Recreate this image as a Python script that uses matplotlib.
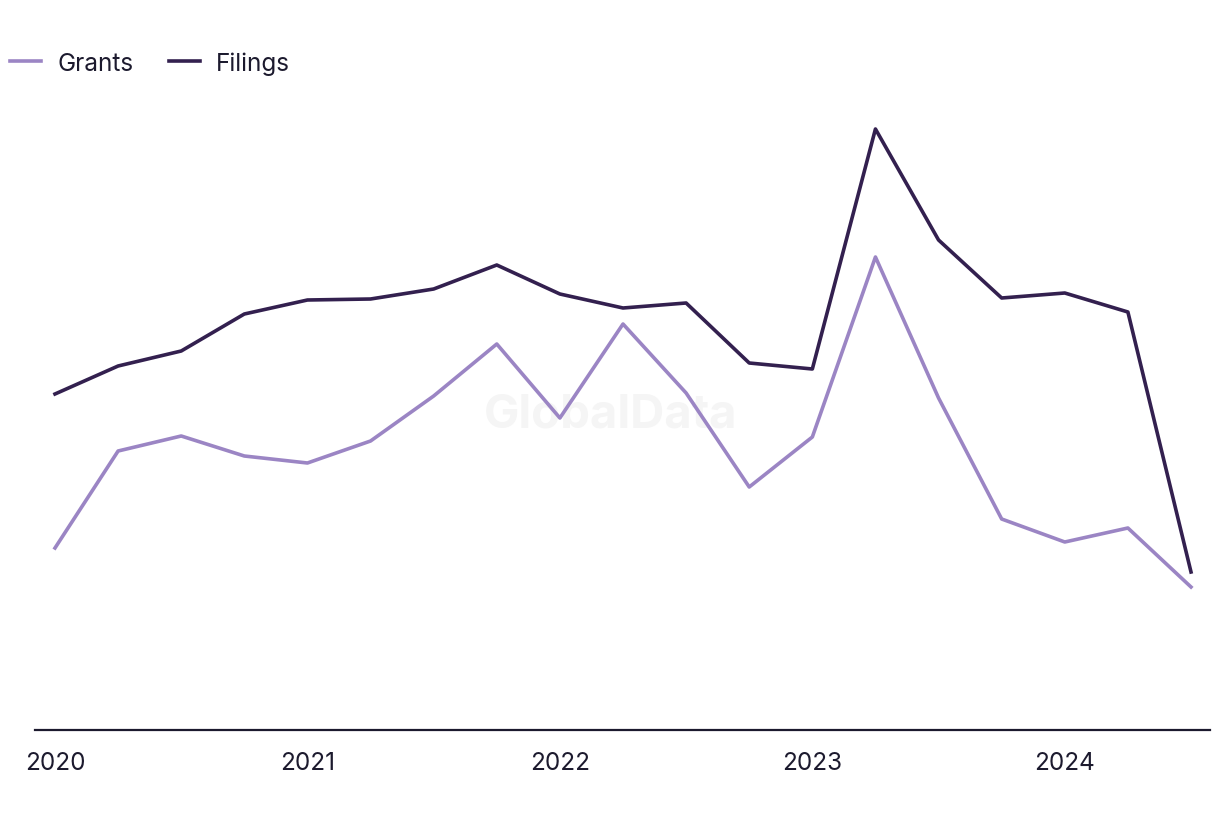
import matplotlib.pyplot as plt
import numpy as np

plt.rcParams['font.family'] = ['Inter', 'DejaVu Sans']

# quarterly, 2020 Q1 .. 2024 Q3
quarters = np.arange(19) / 4 + 2020
filings = [33.6, 36.4, 37.9, 41.6, 43.0, 43.1, 44.1, 46.5, 43.6, 42.2,
           42.7, 36.7, 36.1, 60.1, 49.0, 43.2, 43.7, 41.8, 15.8]
grants = [18.2, 27.9, 29.4, 27.4, 26.7, 28.9, 33.4, 38.6, 31.2, 40.6,
          33.7, 24.3, 29.3, 47.3, 33.2, 21.1, 18.8, 20.2, 14.3]
years = [2020, 2021, 2022, 2023, 2024]

text_col = '#1c1a2e'

fig = plt.figure(figsize=(12.2, 8.2), dpi=100)
ax = fig.add_axes([35 / 1220, 89 / 820, 1175 / 1220, 630 / 820])

ax.plot(quarters, grants, color='#9b85c4', lw=2.6, label='Grants')
ax.plot(quarters, filings, color='#33204f', lw=2.6, label='Filings')

ax.set_xlim(2020 - 20 / 252.5, 2024.5 + 19 / 252.5)
ax.set_ylim(0, 63)

for s in ['top', 'right', 'left']:
    ax.spines[s].set_visible(False)
ax.spines['bottom'].set_color(text_col)
ax.spines['bottom'].set_linewidth(1.6)
ax.set_yticks([])
ax.set_xticks(years)
ax.set_xticklabels([str(y) for y in years], fontsize=17.5, color=text_col)
ax.tick_params(axis='x', length=0, pad=15)

# watermark
ax.text(0.49, 0.5, 'GlobalData', transform=ax.transAxes, fontsize=34,
        fontweight='bold', color='#f5f5f5', ha='center', va='center', zorder=0)

fig.legend(loc='upper left', bbox_to_anchor=(0.008, 0.936), ncol=2, frameon=False,
           fontsize=17.5, handlelength=1.3, handletextpad=0.65, columnspacing=1.45,
           labelcolor=text_col, borderaxespad=0, borderpad=0)

fig.savefig('out.png', dpi=100)
